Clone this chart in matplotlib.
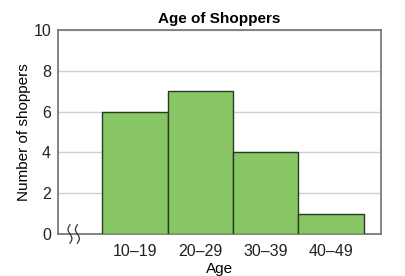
import numpy as np
import matplotlib
matplotlib.use("Agg")
import matplotlib.pyplot as plt

plt.rcParams['font.family'] = ['Liberation Sans', 'DejaVu Sans']

categories = ["10\u201319", "20\u201329", "30\u201339", "40\u201349"]
counts = [6, 7, 4, 1]
y_ticks = [0, 2, 4, 6, 8, 10]

fig = plt.figure(figsize=(4.05, 2.76), dpi=100)
ax = fig.add_axes([58/405, 42/276, 323/405, 204/276])

x = np.arange(1, len(categories) + 1)
ax.bar(x, counts, width=1.0, color="#88c665", edgecolor="#2a3a22", linewidth=1.0, zorder=3)

ax.set_xlim(-0.172, 4.76)
ax.set_ylim(0, 10)
ax.set_yticks(y_ticks)
ax.set_xticks(x)
ax.set_xticklabels(categories)
ax.tick_params(axis='both', length=0, labelsize=11.5, colors="#222222")
ax.tick_params(axis='x', pad=7)
ax.tick_params(axis='y', pad=5)
ax.yaxis.grid(True, color="#d0d0d0", linewidth=1.0, zorder=0)
for s in ax.spines.values():
    s.set_color("#7a7a7a")
    s.set_linewidth(1.3)

ax.set_title("Age of Shoppers", fontsize=11, fontweight="bold", pad=5)
ax.set_xlabel("Age", fontsize=11, labelpad=2)
ax.set_ylabel("Number of shoppers", fontsize=11, labelpad=2)

# axis break squiggles
t = np.linspace(0, 1, 40)
for x0 in (0.037, 0.060):
    xs = x0 + 0.006 * np.sin(t * 2 * np.pi)
    ys = -0.045 + 0.09 * t
    ax.plot(xs, ys, transform=ax.transAxes, color="#333333", lw=0.9, clip_on=False, zorder=5)

fig.savefig("out.png", dpi=100)
